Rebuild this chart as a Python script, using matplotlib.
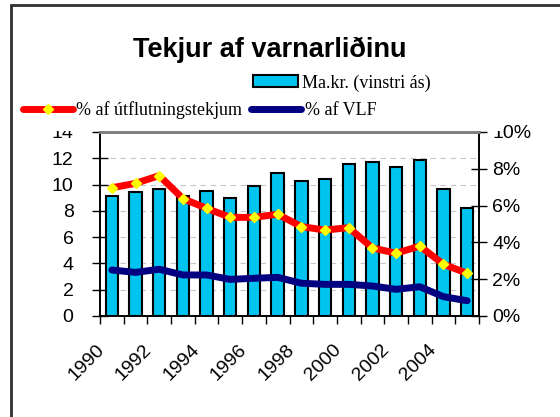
import numpy as np
import matplotlib
matplotlib.use("Agg")
import matplotlib.pyplot as plt
import matplotlib.transforms as mtransforms
from matplotlib.lines import Line2D
from matplotlib.patches import Patch, Rectangle

years = list(range(1990, 2006))
# Ma.kr. (left axis)
revenue = [9.1, 9.4, 9.7, 9.1, 9.5, 9.0, 9.9, 10.9, 10.3, 10.4, 11.6, 11.7, 11.3, 11.9, 9.7, 8.2]
# % of export revenue (right axis)
pct_export = [6.97, 7.21, 7.63, 6.38, 5.85, 5.36, 5.36, 5.53, 4.86, 4.67, 4.80, 3.70, 3.41, 3.80, 2.81, 2.32]
# % of GDP (right axis)
pct_gdp = [2.50, 2.37, 2.54, 2.23, 2.23, 1.99, 2.05, 2.10, 1.78, 1.72, 1.72, 1.63, 1.45, 1.59, 1.05, 0.83]

title = "Tekjur af varnarliðinu"
bar_label = "Ma.kr. (vinstri ás)"
export_label = "% af útflutningstekjum"
gdp_label = "% af VLF"

W, H = 560, 417
fig = plt.figure(figsize=(W / 100, H / 100), dpi=100)
ax = fig.add_axes([100 / W, 1 - 316 / H, 379 / W, 184 / H])
ax2 = ax.twinx()

x = np.arange(len(years))
ax.bar(x, revenue, width=0.52, color="#00C4F0", edgecolor="black", linewidth=1.5, zorder=2)
ax.set_xlim(-0.5, len(years) - 0.5)
ax.set_ylim(0, 14)
ax.set_yticks(range(0, 15, 2))
for v in range(2, 14, 2):
    ax.axhline(v, color="#C8C8C8", linestyle=(0, (5, 4)), linewidth=0.8, zorder=1)

ax2.plot(x, pct_export, color="#FF0000", linewidth=5, marker="D", markersize=5.5,
         markerfacecolor="#FFFF00", markeredgecolor="#FFFF00", zorder=3, solid_capstyle="round")
ax2.plot(x, pct_gdp, color="#000080", linewidth=5, zorder=3, solid_capstyle="round")
ax2.set_ylim(0, 10)
ax2.set_yticks(range(0, 11, 2))
ax2.set_yticklabels([f"{v}%" for v in range(0, 11, 2)])

# category boundaries as tick marks, labels every other year
ax.set_xticks(np.arange(len(years) + 1) - 0.5)
ax.set_xticklabels([str(years[i]) if (i % 2 == 0 and i < 15) else "" for i in range(len(years) + 1)],
                   rotation=45, ha="right", rotation_mode="anchor")
ax.tick_params(axis="x", length=6, direction="out", width=1, pad=12, labelsize=14)
ax.tick_params(axis="y", length=12, direction="inout", width=1, labelsize=14, pad=13)
ax2.tick_params(axis="y", length=12, direction="inout", width=1, labelsize=14, pad=3.5)
shift = mtransforms.ScaledTranslation(-4 / 100, 0, fig.dpi_scale_trans)
for lbl in ax.get_xticklabels():
    lbl.set_transform(lbl.get_transform() + shift)
for lbl in ax.get_xticklabels() + ax.get_yticklabels() + ax2.get_yticklabels():
    lbl.set_fontfamily("Liberation Sans")

for a in (ax, ax2):
    a.spines["top"].set_color("#808080")
    a.spines["top"].set_linewidth(2)
    a.spines["left"].set_linewidth(1.2)
    a.spines["right"].set_linewidth(1.2)
    a.spines["bottom"].set_linewidth(1.2)

# white legend box clipping the top tick labels
fig.patches.append(Rectangle((12 / W, 1 - 130.5 / H), 490 / W, 36 / H, transform=fig.transFigure,
                             facecolor="white", edgecolor="none", zorder=2))

fig.text(270 / W, 1 - 50 / H, title, ha="center", va="center", fontsize=19.5,
         fontweight="bold", family="Liberation Sans")

serif = {"family": "Liberation Serif", "size": 13}
h_bar = Patch(facecolor="#00C4F0", edgecolor="black", linewidth=1.5)
fig.legend([h_bar], [bar_label], loc="center left", bbox_to_anchor=(253 / W, 1 - 83 / H),
           frameon=False, prop=serif, handlelength=2.5, handleheight=0.6, handletextpad=0.22,
           borderpad=0, borderaxespad=0)
h_exp = Line2D([], [], color="#FF0000", linewidth=5, marker="D", markersize=5.5,
               markerfacecolor="#FFFF00", markeredgecolor="#FFFF00", solid_capstyle="round")
h_gdp = Line2D([], [], color="#000080", linewidth=5, solid_capstyle="round")
fig.legend([h_exp, h_gdp], [export_label, gdp_label], loc="center left", ncol=2,
           bbox_to_anchor=(23 / W, 1 - 110 / H), frameon=False, prop=serif, handlelength=2.75,
           handletextpad=0.2, columnspacing=0.5, borderpad=0, borderaxespad=0)

# outer chart frame
fig.patches.append(Rectangle((11 / W, -0.1), 1.2, 1 - 5 / H + 0.1, transform=fig.transFigure,
                             facecolor="none", edgecolor="#303030", linewidth=2, zorder=6))

fig.savefig("out.png", dpi=100)
